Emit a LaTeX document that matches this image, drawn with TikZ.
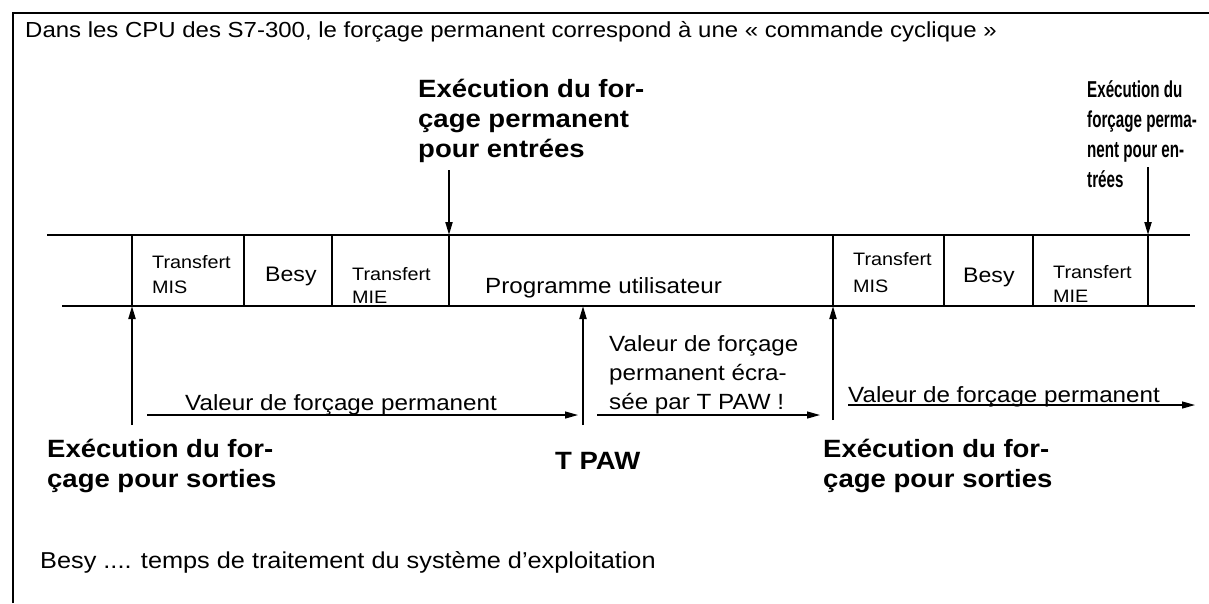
\documentclass[tikz,border=0pt]{standalone}
\usepackage{fontspec}
\setmainfont{Liberation Sans}[FakeStretch=1.1]
\newfontfamily\narrowsans{Liberation Sans}[FakeStretch=0.66]
\usetikzlibrary{arrows.meta}

\begin{document}
\begin{tikzpicture}[x=1pt,y=1pt,
  txt/.style={inner sep=0pt,anchor=base west,align=left,
              font=\fontsize{22}{29}\selectfont},
  cell/.style={txt,font=\fontsize{18}{25}\selectfont},
  hd/.style={txt,font=\fontsize{25}{30}\selectfont\bfseries},
  band/.style={line width=1.1pt},
  up/.style={-{Triangle[length=13pt,width=7pt]},line width=2pt},
  flow/.style={-{Triangle[length=13pt,width=7pt]},line width=1.2pt}
]
\useasboundingbox (0,0) rectangle (1209,-603);
% frame and heading
\draw[line width=1.3pt] (13,-603) -- (13,-13) -- (1209,-13);
\node[txt,font=\fontsize{21.8}{26}\selectfont] (title) at (25,-37)
  {Dans les CPU des S7-300, le forçage permanent correspond à une «~commande cyclique~»};

% cycle band (multi-line labels sit on their last baseline)
\draw[band] (47,-235) -- (1190,-235);
\draw[band] (62,-306) -- (1195,-306);
\foreach \x in {132,244,332,449,833,944,1033,1148}
  \draw[band] (\x,-235) -- (\x,-306);

\node[cell] (mis1) at (152,-293) {Transfert\\MIS};
\node[txt,font=\fontsize{21}{26}\selectfont] (besy1) at (265,-281) {Besy};
\node[cell,font=\fontsize{18}{23}\selectfont] (mie1) at (352,-303) {Transfert\\MIE};
\node[txt] (prog) at (485,-293) {Programme utilisateur};
\node[cell,font=\fontsize{18}{27}\selectfont] (mis2) at (853,-292) {Transfert\\MIS};
\node[txt,font=\fontsize{21}{26}\selectfont] (besy2) at (963,-282) {Besy};
\node[cell,font=\fontsize{18}{24}\selectfont] (mie2) at (1053,-302) {Transfert\\MIE};

% forcing points on the band
\coordinate (in1) at (449,-235);
\coordinate (in2) at (1148,-235);
\coordinate (out1) at (132,-306);
\coordinate (paw) at (583,-306);
\coordinate (out2) at (833,-306);

\node[hd] (fin1) at (418,-157) {Exécution du for-\\çage permanent\\pour entrées};
\node[hd,font=\fontsize{23}{30}\narrowsans\bfseries] (fin2) at (1087,-187)
  {Exécution du\\forçage perma-\\nent pour en-\\trées};
\coordinate (fin1e) at (449,-170);
\coordinate (fin2e) at (1148,-167);
\draw[up] (fin1e) -- (in1);
\draw[up] (fin2e) -- (in2);

\node[hd] (fout1) at (47,-487) {Exécution du for-\\çage pour sorties};
\node[hd] (tpaw) at (555,-469) {T PAW};
\node[hd] (fout2) at (823,-487) {Exécution du for-\\çage pour sorties};
\coordinate (fout1e) at (132,-425);
\coordinate (tpawe) at (583,-425);
\coordinate (fout2e) at (833,-420);
\draw[up] (fout1e) -- (out1);
\draw[up] (tpawe) -- (paw);
\draw[up] (fout2e) -- (out2);

% forcing values along the cycle
\node[txt] (val1) at (185,-410) {Valeur de forçage permanent};
\node[txt] (val2) at (609,-409) {Valeur de forçage\\permanent écra-\\sée par T PAW !};
\node[txt] (val3) at (848,-402) {Valeur de forçage permanent};
\coordinate (a1) at (147,-415);
\coordinate (b1) at (578,-415);
\coordinate (a2) at (597,-415);
\coordinate (b2) at (820,-415);
\coordinate (a3) at (848,-405);
\coordinate (b3) at (1195,-405);
\draw[flow] (a1) -- (b1);
\draw[flow] (a2) -- (b2);
\draw[flow] (a3) -- (b3);

\node[txt,font=\fontsize{23}{28}\selectfont] (note) at (40,-568)
  {Besy .... temps de traitement du système d’exploitation};
\end{tikzpicture}
\end{document}
